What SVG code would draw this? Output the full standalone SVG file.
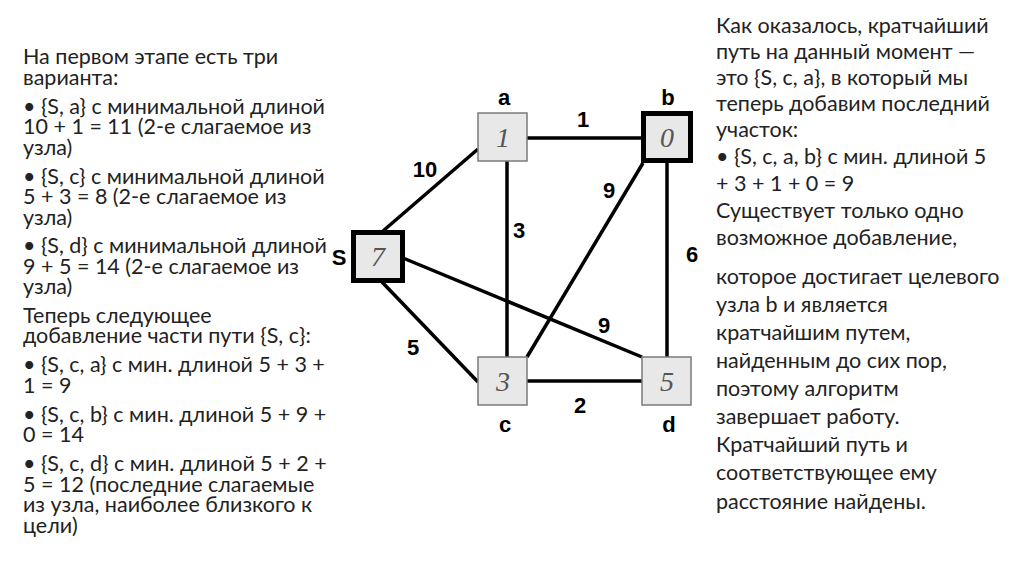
<svg xmlns="http://www.w3.org/2000/svg" width="1024" height="574" viewBox="0 0 1024 574">
<style>
.txt{font-family:Lato,"Liberation Sans",sans-serif;font-size:21.5px;fill:#222}
.edge{stroke:#000;stroke-width:3.5;fill:none;stroke-linecap:butt}
.box{fill:#e8e8e8;stroke:#7a7a7a;stroke-width:1.5}
.boxk{fill:#e8e8e8;stroke:#000;stroke-width:5}
.num{font-family:"Liberation Serif",serif;font-style:italic;font-size:28px;fill:#555;text-anchor:middle}
.lbl{font-family:"Liberation Sans",Arial,sans-serif;font-weight:bold;font-size:22px;fill:#000;text-anchor:middle}
</style>
<rect width="1024" height="574" fill="#fff"/>
<g id="left-text" class="txt">
<text x="23" y="64">На первом этапе есть три</text>
<text x="23" y="84.5">варианта:</text>
<text x="23" y="113.5">• {S, a} с минимальной длиной</text>
<text x="23" y="134">10 + 1 = 11 (2-е слагаемое из</text>
<text x="23" y="154.5">узла)</text>
<text x="23" y="183.5">• {S, c} с минимальной длиной</text>
<text x="23" y="204">5 + 3 = 8 (2-е слагаемое из</text>
<text x="23" y="224.5">узла)</text>
<text x="23" y="253">• {S, d} с минимальной длиной</text>
<text x="23" y="273.5">9 + 5 = 14 (2-е слагаемое из</text>
<text x="23" y="294">узла)</text>
<text x="23" y="322.5">Теперь следующее</text>
<text x="23" y="343">добавление части пути {S, c}:</text>
<text x="23" y="372">• {S, c, a} с мин. длиной 5 + 3 +</text>
<text x="23" y="392.5">1 = 9</text>
<text x="23" y="421.5">• {S, c, b} с мин. длиной 5 + 9 +</text>
<text x="23" y="442">0 = 14</text>
<text x="23" y="471">• {S, c, d} с мин. длиной 5 + 2 +</text>
<text x="23" y="491.5">5 = 12 (последние слагаемые</text>
<text x="23" y="512">из узла, наиболее близкого к</text>
<text x="23" y="532.5">цели)</text>
</g>
<g id="right-text" class="txt">
<text x="716" y="33">Как оказалось, кратчайший</text>
<text x="716" y="59">путь на данный момент —</text>
<text x="716" y="85">это {S, c, a}, в который мы</text>
<text x="716" y="111">теперь добавим последний</text>
<text x="716" y="137">участок:</text>
<text x="716" y="164">• {S, c, a, b} с мин. длиной 5</text>
<text x="716" y="191">+ 3 + 1 + 0 = 9</text>
<text x="716" y="218">Существует только одно</text>
<text x="716" y="245">возможное добавление,</text>
<text x="716" y="284">которое достигает целевого</text>
<text x="716" y="312">узла b и является</text>
<text x="716" y="340">кратчайшим путем,</text>
<text x="716" y="368">найденным до сих пор,</text>
<text x="716" y="396">поэтому алгоритм</text>
<text x="716" y="424">завершает работу.</text>
<text x="716" y="452">Кратчайший путь и</text>
<text x="716" y="480">соответствующее ему</text>
<text x="716" y="509">расстояние найдены.</text>
</g>
<g id="connectors">
<line class="edge" x1="383" y1="231" x2="478" y2="149"/>
<line class="edge" x1="382" y1="282" x2="478" y2="382"/>
<line class="edge" x1="403" y1="258" x2="642" y2="357"/>
<line class="edge" x1="527" y1="138" x2="642" y2="138"/>
<line class="edge" x1="507" y1="161" x2="507" y2="357"/>
<line class="edge" x1="643" y1="163" x2="527" y2="357"/>
<line class="edge" x1="667" y1="161" x2="667" y2="357"/>
<line class="edge" x1="527" y1="381" x2="642" y2="381"/>
<text class="lbl" x="583" y="127">1</text>
<text class="lbl" x="425" y="177">10</text>
<text class="lbl" x="609" y="198">9</text>
<text class="lbl" x="519" y="238">3</text>
<text class="lbl" x="692" y="262">6</text>
<text class="lbl" x="604" y="333">9</text>
<text class="lbl" x="413" y="355">5</text>
<text class="lbl" x="580" y="413">2</text>
</g>
<g id="node-S">
<rect class="boxk" x="353.5" y="232.5" width="49" height="48"/>
<text class="num" x="378" y="266">7</text>
<text class="lbl" x="339" y="265">S</text>
</g>
<g id="node-a">
<rect class="box" x="478" y="113" width="49" height="48"/>
<text class="num" x="503" y="147">1</text>
<text class="lbl" x="504" y="105">a</text>
</g>
<g id="node-b">
<rect class="boxk" x="643.5" y="113.5" width="47" height="47"/>
<text class="num" x="667" y="147">0</text>
<text class="lbl" x="668" y="105">b</text>
</g>
<g id="node-c">
<rect class="box" x="478" y="357" width="49" height="48"/>
<text class="num" x="503" y="391">3</text>
<text class="lbl" x="505" y="432">c</text>
</g>
<g id="node-d">
<rect class="box" x="642" y="357" width="49" height="48"/>
<text class="num" x="667" y="391">5</text>
<text class="lbl" x="669" y="432">d</text>
</g>
</svg>
